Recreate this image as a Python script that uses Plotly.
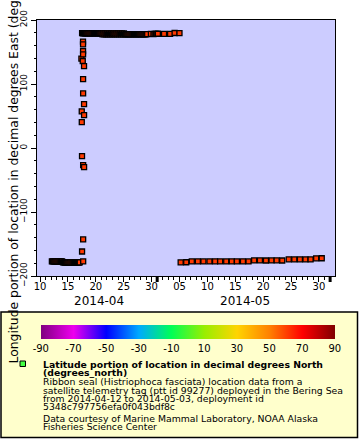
import plotly.graph_objects as go
import pandas as pd

# ---------------- data ----------------
# location fixes: time (2014-MM-DD HH:MM), longitude (deg E), latitude (deg N)
seg1_time = ["04-12 03:00", "04-12 07:00", "04-12 11:00", "04-12 15:00", "04-12 19:00", "04-12 23:00",
             "04-13 03:00", "04-13 07:00", "04-13 11:00", "04-13 15:00", "04-13 19:00", "04-13 23:00"]
seg1_lon = [-177.1, -177.3, -177.0, -177.4, -177.2, -177.1, -177.3, -177.0, -177.2, -177.4, -177.1, -177.3]
seg1_lat = [61.3, 61.2, 61.4, 61.1, 61.3, 61.2, 61.0, 61.2, 61.3, 61.1, 61.2, 61.4]

seg2_time = ["04-14 03:00", "04-14 07:00", "04-14 11:00", "04-14 15:00", "04-14 19:00", "04-14 23:00",
             "04-15 03:00", "04-15 07:00", "04-15 11:00", "04-15 15:00", "04-15 19:00", "04-15 23:00",
             "04-16 03:00", "04-16 07:00", "04-16 11:00", "04-16 15:00", "04-16 19:00", "04-16 23:00",
             "04-17 03:00"]
seg2_lon = [-178.8, -178.6, -178.9, -178.7, -179.0, -178.8, -178.6, -178.9, -178.7, -178.8,
            -179.0, -178.6, -178.8, -178.9, -178.7, -178.8, -178.6, -178.9, -178.7]
seg2_lat = [61.2, 61.3, 61.1, 61.2, 61.4, 61.3, 61.2, 61.0, 61.1, 61.3,
            61.2, 61.4, 61.3, 61.1, 61.2, 61.2, 61.3, 61.1, 61.2]

outlier_time = ["04-17 10:00", "04-17 11:30", "04-17 11:40", "04-17 12:40", "04-17 12:50", "04-17 15:50",
                "04-17 17:00", "04-17 17:05", "04-17 17:10", "04-17 17:15", "04-17 17:20", "04-17 17:25",
                "04-17 17:30", "04-17 17:35", "04-17 17:40", "04-17 21:20", "04-17 21:25", "04-17 21:30",
                "04-17 21:35"]
outlier_lon = [139.6, 57.2, 40.5, -12.7, -161.7, 135.9,
               166.2, 162.0, 151.5, 146.4, 107.7, 85.4,
               -26.7, -142.9, -177.3, 128.0, 68.6, 51.4,
               -29.9]
outlier_lat = [61.0, 61.3, 61.2, 61.1, 61.4, 61.2,
               61.3, 61.1, 61.2, 61.0, 61.3, 61.2,
               61.1, 61.2, 61.3, 61.2, 61.1, 61.3,
               61.2]

seg3_time = ["04-17 13:00", "04-17 17:00", "04-17 21:00", "04-18 01:00", "04-18 05:00", "04-18 09:00",
             "04-18 13:00", "04-18 17:00", "04-18 21:00", "04-19 01:00", "04-19 05:00", "04-19 09:00",
             "04-19 13:00", "04-19 17:00", "04-19 21:00", "04-20 01:00", "04-20 05:00", "04-20 09:00",
             "04-20 13:00", "04-20 17:00", "04-20 21:00"]
seg3_lon = [179.4, 179.2, 179.5, 179.3, 179.1, 179.4, 179.2, 179.5, 179.3, 179.2, 179.4,
            179.1, 179.3, 179.5, 179.2, 179.4, 179.3, 179.1, 179.4, 179.2, 179.3]
seg3_lat = [61.3, 61.2, 61.4, 61.3, 61.1, 61.2, 61.3, 61.4, 61.2, 61.1, 61.3,
            61.2, 61.4, 61.3, 61.2, 61.1, 61.3, 61.2, 61.4, 61.3, 61.2]

seg4_time = ["04-21 01:00", "04-21 05:00", "04-21 09:00", "04-21 13:00", "04-21 17:00", "04-21 21:00",
             "04-22 01:00", "04-22 05:00", "04-22 09:00", "04-22 13:00", "04-22 17:00", "04-22 21:00",
             "04-23 01:00", "04-23 05:00", "04-23 09:00", "04-23 13:00", "04-23 17:00", "04-23 21:00",
             "04-24 01:00", "04-24 05:00", "04-24 09:00", "04-24 13:00", "04-24 17:00", "04-24 21:00",
             "04-25 01:00", "04-25 05:00"]
seg4_lon = [179.1, 177.5, 179.2, 177.4, 179.0, 177.6, 179.1, 177.5, 179.2, 177.4, 179.0, 177.5, 179.1,
            177.6, 179.2, 177.4, 179.1, 177.5, 179.0, 177.6, 179.2, 177.4, 179.1, 177.5, 179.0, 177.6]
seg4_lat = [61.2, 61.3, 61.1, 61.2, 61.4, 61.3, 61.2, 61.1, 61.3, 61.2, 61.4, 61.2, 61.3,
            61.1, 61.2, 61.3, 61.2, 61.4, 61.1, 61.3, 61.2, 61.2, 61.3, 61.1, 61.2, 61.4]

seg5_time = ["04-25 09:00", "04-25 13:00", "04-25 17:00", "04-25 21:00",
             "04-26 01:00", "04-26 05:00", "04-26 09:00", "04-26 13:00", "04-26 17:00", "04-26 21:00",
             "04-27 01:00", "04-27 05:00", "04-27 09:00", "04-27 13:00", "04-27 17:00", "04-27 21:00",
             "04-28 01:00", "04-28 05:00", "04-28 09:00", "04-28 13:00", "04-28 17:00", "04-28 21:00",
             "04-29 01:00", "04-29 05:00"]
seg5_lon = [177.8, 177.6, 177.9, 177.7, 177.8, 177.9, 177.6, 177.8, 177.7, 177.9, 177.8, 177.6,
            177.8, 177.9, 177.7, 177.8, 177.6, 177.8, 177.9, 177.7, 177.8, 177.6, 177.9, 177.8]
seg5_lat = [61.2, 61.3, 61.1, 61.2, 61.4, 61.3, 61.2, 61.1, 61.3, 61.2, 61.4, 61.2,
            61.3, 61.1, 61.2, 61.3, 61.2, 61.4, 61.1, 61.3, 61.2, 61.2, 61.3, 61.1]

seg6_time = ["04-29 21:00", "04-30 08:00", "04-30 13:00", "04-30 18:00", "04-30 22:00", "05-01 03:00",
             "05-02 05:30", "05-03 07:30", "05-04 03:00", "05-05 00:00"]
seg6_lon = [178.2, 178.0, 178.3, 178.4, 178.2, 178.5, 178.4, 178.3, 179.7, 179.6]
seg6_lat = [61.3, 61.2, 61.1, 61.3, 61.2, 61.4, 61.2, 61.3, 61.1, 61.2]

seg7_time = ["05-05 05:00", "05-06 05:00",
             "05-07 05:00", "05-08 07:00", "05-09 07:00", "05-10 09:00", "05-11 09:00", "05-12 07:00",
             "05-13 09:00", "05-14 09:00", "05-15 07:00", "05-16 09:00", "05-17 09:00",
             "05-18 09:00", "05-19 10:00", "05-20 12:00", "05-21 12:00", "05-22 10:00", "05-23 10:00",
             "05-24 14:00", "05-25 14:00", "05-26 14:00", "05-27 14:00", "05-28 12:00",
             "05-29 12:00", "05-30 12:00"]
seg7_lon = [-178.6, -178.5,
            -177.2, -177.1, -177.3, -177.2, -177.0, -177.2, -177.3, -177.1, -177.2, -177.0, -177.3,
            -175.7, -175.6, -175.8, -175.7, -175.5, -175.8,
            -174.0, -174.1, -173.9, -174.0, -174.1,
            -172.4, -172.3]
seg7_lat = [61.2, 61.3,
            61.1, 61.2, 61.4, 61.3, 61.2, 61.1, 61.3, 61.2, 61.4, 61.2, 61.3,
            61.1, 61.2, 61.3, 61.2, 61.4, 61.1,
            61.3, 61.2, 61.2, 61.3, 61.1,
            61.2, 61.4]

x_tick_dates = ["2014-04-10", "2014-04-15", "2014-04-20", "2014-04-25", "2014-04-30", "2014-05-05",
                "2014-05-10", "2014-05-15", "2014-05-20", "2014-05-25", "2014-05-30"]
x_tick_text = ["10", "15", "20", "25", "30", "05", "10", "15", "20", "25", "30"]
month_starts = ["2014-05-01", "2014-06-01"]
month_labels = ["2014-04", "2014-05"]
y_tick_vals = [-200, -100, 0, 100, 200]
cbar_ticks = [-90, -70, -50, -30, -10, 10, 30, 50, 70, 90]

y_title = "Longitude portion of location in decimal degrees East (degrees_east)"
legend_lines = [
    ("<b>Latitude portion of location in decimal degrees North</b>", 364.7),
    ("<b>(degrees_north)</b>", 372.8),
    ("Ribbon seal (Histriophoca fasciata) location data from a", 381.7),
    ("satellite telemetry tag (ptt id 99277) deployed in the Bering Sea", 390.0),
    ("from 2014-04-12 to 2014-05-03, deployment id", 398.0),
    ("5348c797756efa0f043bdf8c", 406.7),
    ("Data courtesy of Marine Mammal Laboratory, NOAA Alaska", 418.0),
    ("Fisheries Science Center", 426.7),
]

# ---------------- assemble ----------------
times = seg1_time + seg2_time + outlier_time + seg3_time + seg4_time + seg5_time + seg6_time + seg7_time
lons = seg1_lon + seg2_lon + outlier_lon + seg3_lon + seg4_lon + seg5_lon + seg6_lon + seg7_lon
lats = seg1_lat + seg2_lat + outlier_lat + seg3_lat + seg4_lat + seg5_lat + seg6_lat + seg7_lat
times = pd.to_datetime(["2014-" + t for t in times])

W, H = 360, 440
L, R, T, B = 37, 335, 20, 276
PW, PH = R - L, B - T

def px(x):
    return (x - L) / PW

def py(y):
    return (B - y) / PH

FONT = "DejaVu Sans"

colorscale = [
    [0.0, "#800080"], [0.111, "#ee00ee"], [0.222, "#0000ff"], [0.333, "#00aaff"],
    [0.444, "#00ff55"], [0.556, "#99ee00"], [0.667, "#ffd400"], [0.778, "#ff8000"],
    [0.889, "#ff0000"], [1.0, "#800000"],
]

fig = go.Figure()
fig.add_trace(go.Scatter(
    x=times, y=lons, mode="markers",
    marker=dict(symbol="square", size=5, color=lats, colorscale=colorscale,
                cmin=-90, cmax=90, line=dict(color="black", width=1.3),
                showscale=True,
                colorbar=dict(orientation="h", xref="paper", yref="paper",
                              x=px(187.8), xanchor="center", y=py(325), yanchor="top",
                              lenmode="pixels", len=294, thickness=14, thicknessmode="pixels",
                              xpad=0, ypad=0, outlinewidth=0, ticks="",
                              tickvals=cbar_ticks, ticktext=[str(v) for v in cbar_ticks],
                              tickfont=dict(family=FONT, size=10, color="black"))),
    showlegend=False, hoverinfo="x+y",
))

shapes = []
# legend box
shapes.append(dict(type="rect", xref="paper", yref="paper", x0=px(1), x1=px(357.5), y0=py(437.5), y1=py(312),
                   fillcolor="#ffffcc", line=dict(color="black", width=1.5), layer="below"))
# legend swatch
shapes.append(dict(type="rect", xref="paper", yref="paper", x0=px(20), x1=px(25.5), y0=py(366.5), y1=py(361),
                   fillcolor="#44ff44", line=dict(color="black", width=1)))
# heavier month-boundary ticks
for m in month_starts:
    shapes.append(dict(type="line", xref="x", yref="paper", x0=m, x1=m, y0=0, y1=-6 / PH,
                       line=dict(color="black", width=3)))

annotations = []
annotations.append(dict(text=y_title, textangle=-90, xref="paper", yref="paper",
                        x=px(12.5), y=py(366), xanchor="center", yanchor="bottom", showarrow=False,
                        font=dict(family=FONT, size=12.4, color="black")))
for lbl, cx in zip(month_labels, [98.7, 244.5]):
    annotations.append(dict(text=lbl, xref="paper", yref="paper", x=px(cx), y=py(301),
                            xanchor="center", yanchor="middle", showarrow=False,
                            font=dict(family=FONT, size=12, color="black")))
for txt, yy in legend_lines:
    annotations.append(dict(text=txt, xref="paper", yref="paper", x=px(42), y=py(yy),
                            xanchor="left", yanchor="middle", showarrow=False, borderpad=0,
                            font=dict(family=FONT, size=9.3, color="black")))

fig.update_layout(
    width=W, height=H,
    margin=dict(l=L, r=W - R, t=T, b=H - B, autoexpand=False),
    paper_bgcolor="white", plot_bgcolor="#ccccff",
    font=dict(family=FONT, color="black"),
    shapes=shapes, annotations=annotations,
    xaxis=dict(type="date", range=["2014-04-09 11:00", "2014-06-01 21:00"],
               tickmode="array", tickvals=x_tick_dates, ticktext=x_tick_text,
               ticks="outside", ticklen=5, tickwidth=1, tickcolor="black",
               ticklabelstandoff=-4,
               minor=dict(dtick=86400000, tick0="2014-04-01", ticks="outside", ticklen=3,
                          tickwidth=1, tickcolor="black", showgrid=False),
               showgrid=False, zeroline=False, showline=True, linecolor="black", linewidth=1,
               mirror=True, tickfont=dict(family=FONT, size=10, color="black")),
    yaxis=dict(range=[-200, 200], tickmode="array", tickvals=y_tick_vals, tickangle=-90,
               ticks="outside", ticklen=5, tickwidth=1, tickcolor="black",
               minor=dict(dtick=20, tick0=0, ticks="outside", ticklen=2.5, tickwidth=1,
                          tickcolor="black", showgrid=False),
               showgrid=False, zeroline=False, showline=True, linecolor="black", linewidth=1,
               mirror=True, tickfont=dict(family=FONT, size=9, color="black")),
)

fig.write_html("out.html", config={"displayModeBar": False},
               post_script="document.body.style.margin='0';document.body.style.padding='0';")
